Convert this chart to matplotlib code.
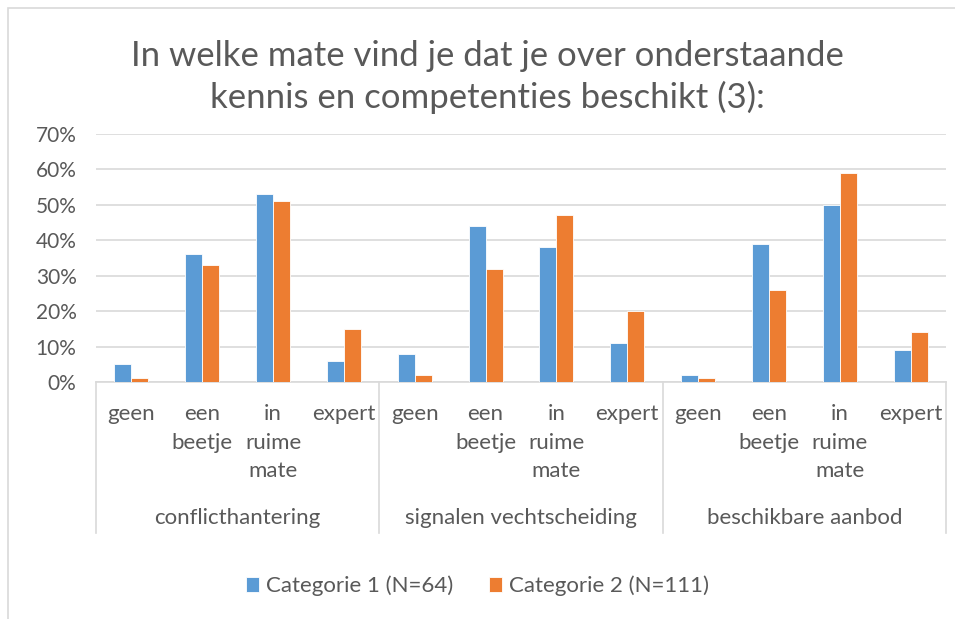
import matplotlib.pyplot as plt
import matplotlib.transforms as mtransforms
from matplotlib.patches import Rectangle
import numpy as np

plt.rcParams['font.family'] = ['Lato', 'DejaVu Sans']

groups = ['conflicthantering', 'signalen vechtscheiding', 'beschikbare aanbod']
levels = ['geen', 'een\nbeetje', 'in\nruime\nmate', 'expert']
series_names = ['Categorie 1 (N=64)', 'Categorie 2 (N=111)']
cat1 = [5, 36, 53, 6, 8, 44, 38, 11, 2, 39, 50, 9]
cat2 = [1, 33, 51, 15, 2, 32, 47, 20, 1, 26, 59, 14]
yticks = [0, 10, 20, 30, 40, 50, 60, 70]

blue = '#5B9BD5'
orange = '#ED7D31'
grey = '#595959'
line = '#d9d9d9'

fig = plt.figure(figsize=(9.55, 6.19), dpi=100)
ax = fig.add_axes([96/955, 1-382/619, 850/955, 248/619])

x = np.arange(len(cat1))
w = 0.24
ax.bar(x - w/2, cat1, w, color=blue, edgecolor='white', linewidth=0.6, label=series_names[0], zorder=3)
ax.bar(x + w/2, cat2, w, color=orange, edgecolor='white', linewidth=0.6, label=series_names[1], zorder=3)

ax.set_xlim(-0.5, len(cat1) - 0.5)
ax.set_ylim(0, 70)
ax.set_yticks(yticks)
ax.set_yticklabels([f'{v}%' for v in yticks])
ax.tick_params(axis='y', length=0, pad=14, labelsize=15, labelcolor=grey)
ax.set_xticks([])
ax.grid(axis='y', color=line, linewidth=1.2, zorder=0)
for s in ['left', 'right', 'top']:
    ax.spines[s].set_visible(False)
ax.spines['bottom'].set_color(line)
ax.spines['bottom'].set_linewidth(1.2)

trans = mtransforms.blended_transform_factory(ax.transData, ax.transAxes)
for i in range(len(cat1)):
    ax.text(x[i], -0.088, levels[i % 4], transform=trans, ha='center', va='top',
            fontsize=16, color=grey, linespacing=1.55)
for g in range(len(groups)):
    ax.text(g*4 + 1.5, -0.548, groups[g], transform=trans, ha='center', va='center',
            fontsize=16, color=grey)
for b in [-0.5, 3.5, 7.5, 11.5]:
    ax.plot([b, b], [0, -0.61], transform=trans, color=line, linewidth=1.2, clip_on=False)

fig.text(0.51, 1-77/619, 'In welke mate vind je dat je over onderstaande\nkennis en competenties beschikt (3):',
         ha='center', va='center', fontsize=25, color=grey, linespacing=1.3)

fig.legend(loc='center', bbox_to_anchor=(0.5, 1-586/619), ncol=2, frameon=False,
           fontsize=16, labelcolor=grey, handlelength=0.6, handleheight=0.6,
           handletextpad=0.3, columnspacing=1.6)

fig.add_artist(Rectangle((8/955, -0.1), 1.2, 1.1 - 8/619, transform=fig.transFigure,
                         fill=False, edgecolor=line, linewidth=1.2))

fig.savefig('out.png', dpi=100)
